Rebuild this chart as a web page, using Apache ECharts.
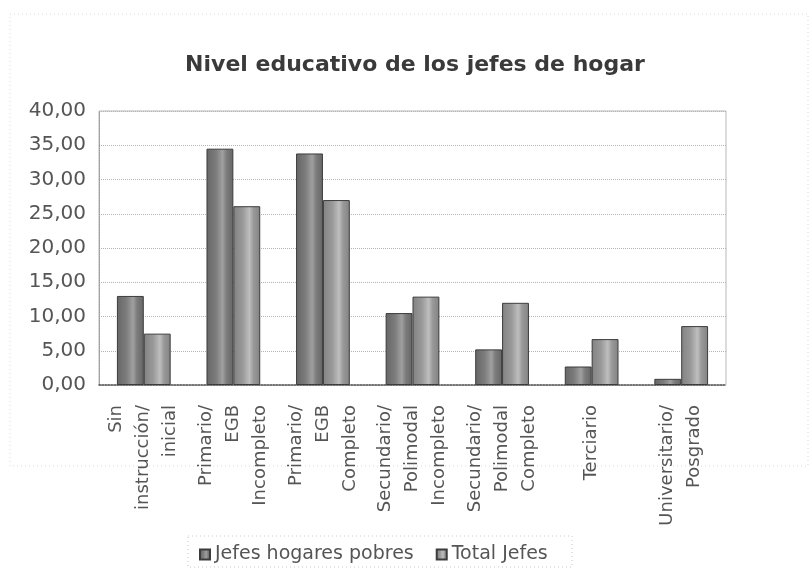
<!DOCTYPE html>
<html>
<head>
<meta charset="utf-8">
<script src="https://cdn.jsdelivr.net/npm/echarts@6/dist/echarts.min.js"></script>
<style>
  html, body { margin: 0; padding: 0; background: #ffffff; }
  #chart { width: 812px; height: 575px; }
</style>
</head>
<body>
<div id="chart"></div>
<script>
// Education level of household heads (%)
const categories = [
  'Sin\ninstrucción/\ninicial',
  'Primario/\nEGB\nIncompleto',
  'Primario/\nEGB\nCompleto',
  'Secundario/\nPolimodal\nIncompleto',
  'Secundario/\nPolimodal\nCompleto',
  'Terciario',
  'Universitario/\nPosgrado'
];
const seriesNames = ['Jefes hogares pobres', 'Total Jefes'];
const jefesPobres = [13.0, 34.5, 33.8, 10.5, 5.2, 2.7, 0.9];
const totalJefes = [7.5, 26.1, 27.0, 12.9, 12.0, 6.7, 8.6];
const yTicks = { min: 0, max: 40, interval: 5 };

const FONT = 'DejaVu Sans';

function barFill(dark, mid, light) {
  return new echarts.graphic.LinearGradient(0, 0, 1, 0, [
    { offset: 0, color: dark },
    { offset: 0.35, color: mid },
    { offset: 0.6, color: light },
    { offset: 0.75, color: mid },
    { offset: 1, color: dark }
  ]);
}

const chart = echarts.init(document.getElementById('chart'));
chart.setOption({
  backgroundColor: '#ffffff',
  animation: false,
  title: {
    text: 'Nivel educativo de los jefes de hogar',
    left: 410,
    top: 49,
    textAlign: 'center',
    textStyle: { fontFamily: FONT, fontSize: 22, fontWeight: 'bold', color: '#3a3a3a' }
  },
  legend: {
    data: seriesNames,
    left: 194,
    top: 540,
    itemWidth: 10,
    itemHeight: 10,
    itemGap: 22,
    icon: 'rect',
    textStyle: { fontFamily: FONT, fontSize: 19, color: '#555' }
  },
  grid: {
    left: 99,
    right: 86,
    top: 111,
    bottom: 190,
    show: true,
    borderColor: '#b8b8b8',
    borderWidth: 1
  },
  xAxis: {
    type: 'category',
    data: categories,
    axisTick: { show: false },
    axisLine: { lineStyle: { color: '#555', type: 'dotted', width: 1.5 } },
    axisLabel: {
      rotate: 90,
      interval: 0,
      margin: 20,
      fontFamily: FONT,
      fontSize: 18,
      lineHeight: 27,
      color: '#555'
    }
  },
  yAxis: {
    type: 'value',
    min: yTicks.min,
    max: yTicks.max,
    interval: yTicks.interval,
    axisLine: { show: true, lineStyle: { color: '#999', type: 'dotted' } },
    axisTick: { show: false },
    splitLine: { lineStyle: { color: '#b4b4b4', type: 'dotted', width: 1 } },
    axisLabel: {
      margin: 13,
      fontFamily: FONT,
      fontSize: 20,
      color: '#555',
      formatter: v => v.toFixed(2).replace('.', ',')
    }
  },
  series: [
    {
      name: seriesNames[0],
      type: 'bar',
      data: jefesPobres,
      barGap: '0%',
      barCategoryGap: '40%',
      itemStyle: {
        color: barFill('#666666', '#7c7c7c', '#a0a0a0'),
        borderColor: '#3c3c3c',
        borderWidth: 1
      }
    },
    {
      name: seriesNames[1],
      type: 'bar',
      data: totalJefes,
      itemStyle: {
        color: barFill('#828282', '#999999', '#bebebe'),
        borderColor: '#3c3c3c',
        borderWidth: 1
      }
    }
  ],
  graphic: [
    {
      type: 'rect',
      silent: true,
      shape: { x: 10, y: 14, width: 798, height: 452 },
      style: { fill: 'none', stroke: '#dadada', lineWidth: 1, lineDash: [1, 3] }
    },
    {
      type: 'rect',
      silent: true,
      shape: { x: 188, y: 536, width: 384, height: 31 },
      style: { fill: 'none', stroke: '#c8c8c8', lineWidth: 1, lineDash: [1, 3] }
    }
  ]
});
</script>
</body>
</html>
